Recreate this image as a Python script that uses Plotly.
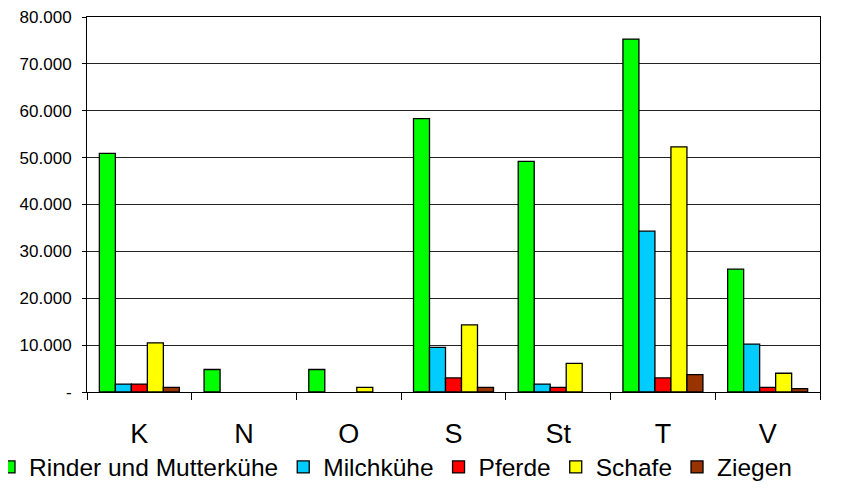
import plotly.graph_objects as go

regions = ["K", "N", "O", "S", "St", "T", "V"]
rinder = [50900, 4800, 4800, 58300, 49200, 75300, 26200]
milchkuehe = [1700, None, None, 9500, 1700, 34300, 10200]
pferde = [1700, None, None, 3000, 1000, 3000, 1000]
schafe = [10500, None, 1000, 14300, 6100, 52300, 4000]
ziegen = [1000, None, None, 1000, None, 3700, 700]

series_names = ["Rinder und Mutterkühe", "Milchkühe", "Pferde", "Schafe", "Ziegen"]
series_values = [rinder, milchkuehe, pferde, schafe, ziegen]
series_colors = ["#00FF00", "#00CCFF", "#FF0000", "#FFFF00", "#993300"]

y_tickvals = [0, 10000, 20000, 30000, 40000, 50000, 60000, 70000, 80000]
y_ticktext = ["-", "10.000", "20.000", "30.000", "40.000", "50.000", "60.000", "70.000", "80.000"]

fig = go.Figure()
for name, vals, col in zip(series_names, series_values, series_colors):
    fig.add_trace(go.Bar(
        x=regions, y=vals, name=name,
        marker=dict(color=col, line=dict(color="#000000", width=1.3)),
    ))

fig.update_layout(
    width=854, height=495,
    margin=dict(l=79, r=42, t=9, b=111, autoexpand=False),
    paper_bgcolor="white", plot_bgcolor="white",
    barmode="group", bargap=0.236, bargroupgap=0,
    font=dict(family="Liberation Sans, Arial, sans-serif", color="#000000"),
    showlegend=True,
    legend=dict(
        orientation="h", x=-0.1337, xanchor="left", y=-0.2, yanchor="middle",
        font=dict(size=24.5, color="#000000"), bgcolor="rgba(0,0,0,0)",
        itemclick=False, traceorder="normal",
    ),
)
fig.update_xaxes(
    type="category", showline=True, linecolor="#000000", linewidth=1, mirror=True,
    ticks="outside", tickson="boundaries", ticklen=7, tickcolor="#000000",
    tickfont=dict(size=27, color="#000000"), ticklabelstandoff=18,
    showgrid=False, automargin=False, ticklabeloverflow="allow",
)
fig.update_yaxes(
    range=[0, 80000], tickvals=y_tickvals, ticktext=y_ticktext,
    showline=True, linecolor="#000000", linewidth=1, mirror=True,
    ticks="outside", ticklen=4, tickcolor="#000000",
    tickfont=dict(size=17, color="#000000"), ticklabelstandoff=7,
    showgrid=True, gridcolor="#222222", gridwidth=1, zeroline=False,
    automargin=False, ticklabeloverflow="allow",
)

fig.write_html("out.html")
